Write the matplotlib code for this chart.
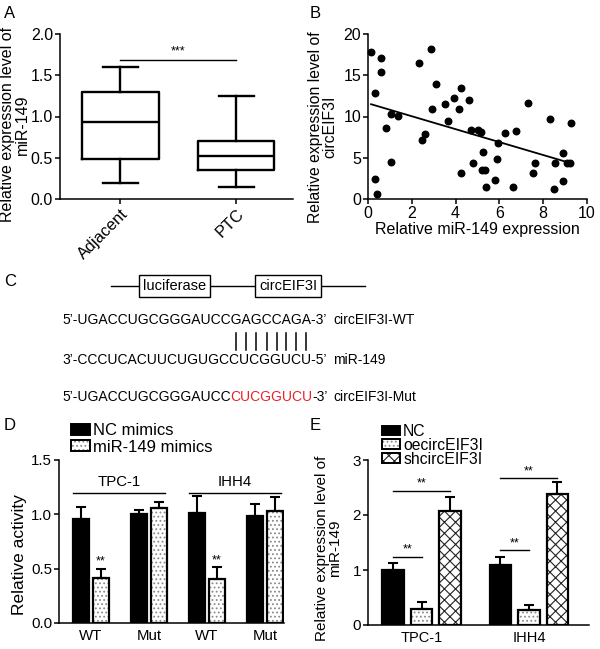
import numpy as np
import matplotlib
matplotlib.use('Agg')
import matplotlib.pyplot as plt
from matplotlib.patches import Patch
from matplotlib.legend_handler import HandlerTuple

plt.rcParams['font.family'] = ['Liberation Sans', 'DejaVu Sans']
plt.rcParams['font.size'] = 10.5
plt.rcParams['hatch.linewidth'] = 0.8

# ---- data ----
# A: box plot summary (whisker low, q1, median, q3, whisker high)
box_groups = ['Adjacent', 'PTC']
box_whislo = [0.20, 0.15]
box_q1 = [0.48, 0.35]
box_med = [0.93, 0.52]
box_q3 = [1.30, 0.70]
box_whishi = [1.60, 1.25]

# B: scatter miR-149 vs circEIF3I
mir_x = [0.14, 0.58, 0.59, 0.33, 1.03, 1.37, 0.82, 1.07, 0.33, 0.40,
         2.34, 2.86, 3.10, 2.90, 2.45, 2.60, 3.53, 3.64, 3.94, 4.16,
         4.26, 4.63, 4.25, 4.78, 4.70, 5.00, 5.14, 5.95, 5.24, 5.19,
         5.34, 5.88, 5.39, 5.78, 6.24, 6.76, 6.60, 7.29, 7.61, 7.55,
         8.31, 9.25, 8.52, 8.92, 9.07, 9.22, 8.90, 8.48]
circ_y = [17.8, 17.05, 15.4, 12.9, 10.3, 10.1, 8.6, 4.45, 2.4, 0.65,
          16.5, 18.2, 13.98, 10.95, 7.15, 7.9, 11.55, 9.5, 12.25, 10.87,
          13.5, 12.04, 3.1, 4.4, 8.36, 8.36, 8.16, 6.75, 5.74, 3.5,
          3.5, 4.8, 1.5, 2.3, 7.96, 8.3, 1.45, 11.67, 4.4, 3.1,
          9.66, 9.25, 4.4, 5.57, 4.4, 4.4, 2.2, 1.17]

# C: sequences
seq_wt = "5\u2019-UGACCUGCGGGAUCCGAGCCAGA-3\u2019"
seq_mir = "3\u2019-CCCUCACUUCUGUGCCUCGGUCU-5\u2019"
mut_parts = ["5\u2019-UGACCUGCGGGAUCC", "CUCGGUCU", "-3\u2019"]
mut_colors = ['black', '#e8232a', 'black']
seq_names = ['circEIF3I-WT', 'miR-149', 'circEIF3I-Mut']
pair_start, pair_count = 18, 8

# D: luciferase activity
d_ticks = ['WT', 'Mut', 'WT', 'Mut']
d_cells = ['TPC-1', 'IHH4']
d_nc = [0.958, 1.004, 1.01, 0.986]
d_nc_err = [0.11, 0.04, 0.16, 0.11]
d_mir = [0.416, 1.06, 0.404, 1.035]
d_mir_err = [0.085, 0.055, 0.11, 0.12]
d_sig = ['**', '', '**', '']

# E: miR-149 expression
e_cells = ['TPC-1', 'IHH4']
e_nc = [1.00, 1.085]
e_nc_err = [0.12, 0.16]
e_oe = [0.285, 0.27]
e_oe_err = [0.13, 0.10]
e_sh = [2.08, 2.39]
e_sh_err = [0.24, 0.21]
e_long_y = [2.44, 2.67]
e_short_y = [1.24, 1.36]

fig = plt.figure(figsize=(6, 6.49), dpi=100)


def frac(l, t, r, b):
    return [l / 600, 1 - b / 649, (r - l) / 600, (b - t) / 649]


def style(ax, size):
    for s in ['top', 'right']:
        ax.spines[s].set_visible(False)
    for s in ['left', 'bottom']:
        ax.spines[s].set_linewidth(1.1)
    ax.tick_params(width=1.1, length=3.5, labelsize=size, pad=1.5)


def ylab(ax, text, size, cx, cy):
    # centred placement of the (possibly two-line) y label
    ax.set_ylabel(text, fontsize=size, linespacing=0.95)
    ax.yaxis.label.set(va='center', ha='center', rotation_mode='default')
    ax.yaxis.set_label_coords(cx, cy)


def dotted_bars(ax, x, h, w, hatch='....', hc='#8a8a8a'):
    ax.bar(x, h, w, color='white', edgecolor=hc, hatch=hatch, lw=0)
    ax.bar(x, h, w, fill=False, edgecolor='black', lw=1.6)


# ---- A ----
axA = fig.add_axes(frac(60, 34, 293, 199))
stats = [dict(whislo=a, q1=b, med=c, q3=d, whishi=e, label=g)
         for a, b, c, d, e, g in zip(box_whislo, box_q1, box_med, box_q3, box_whishi, box_groups)]
lp = dict(color='black', lw=1.7)
axA.bxp(stats, positions=[1, 2], widths=0.66, capwidths=0.3, showfliers=False,
        boxprops=lp, whiskerprops=lp, capprops=lp, medianprops=lp)
axA.set_xlim(0.48, 2.49)
axA.set_ylim(0, 2.0)
axA.set_yticks([0, 0.5, 1.0, 1.5, 2.0])
axA.set_yticklabels(['0.0', '0.5', '1.0', '1.5', '2.0'])
style(axA, 11.5)
axA.set_xticks([1, 2])
axA.set_xticklabels(box_groups, rotation=45, ha='right', rotation_mode='anchor', fontsize=11.8)
ylab(axA, 'Relative expression level of\nmiR-149', 11.5, -0.193, 0.452)
axA.plot([1, 2], [1.69, 1.69], color='black', lw=1)
axA.text(1.5, 1.71, '***', ha='center', va='bottom', fontsize=9)

# ---- B ----
axB = fig.add_axes(frac(368, 34, 587, 199))
axB.scatter(mir_x, circ_y, s=22, color='black', zorder=3, clip_on=False)
k, b0 = np.polyfit(mir_x, circ_y, 1)
xs = np.array([min(mir_x), max(mir_x)])
axB.plot(xs, k * xs + b0, color='black', lw=1.3)
axB.set_xlim(0, 10)
axB.set_ylim(0, 20)
axB.set_xticks(range(0, 11, 2))
axB.set_yticks(range(0, 21, 5))
style(axB, 11.5)
axB.set_xlabel('Relative miR-149 expression', labelpad=1, fontsize=11.5)
ylab(axB, 'Relative expression level of\ncircEIF3I', 11.3, -0.205, 0.436)

# ---- C ----
fig.canvas.draw()
rend = fig.canvas.get_renderer()
fy = lambda py: 1 - py / 649
fig.add_artist(plt.Line2D([111 / 600, 365 / 600], [fy(286), fy(286)], color='black', lw=1,
                          transform=fig.transFigure))
for label, cx in [('luciferase', 174.5), ('circEIF3I', 288)]:
    fig.text(cx / 600, fy(286), label, ha='center', va='center', fontsize=10.5,
             bbox=dict(boxstyle='square,pad=0.3', fc='white', ec='black', lw=1))

x0 = 62 / 600
size_c = 10.0
rows_y = [fy(320), fy(360), fy(397)]
fig.text(x0, rows_y[0], seq_wt, va='center', fontsize=size_c)
fig.text(x0, rows_y[1], seq_mir, va='center', fontsize=size_c)
xc = x0
for part, col in zip(mut_parts, mut_colors):
    t = fig.text(xc, rows_y[2], part, va='center', fontsize=size_c, color=col)
    xc = fig.transFigure.inverted().transform(t.get_window_extent(rend))[1][0]
for name, yy in zip(seq_names, rows_y):
    fig.text(333 / 600, yy, name, va='center', fontsize=size_c)

# pairing bars under the matched bases
for i in range(pair_start, pair_start + pair_count):
    ta = fig.text(x0, 0, seq_wt[:i], fontsize=size_c)
    tb = fig.text(x0, 0, seq_wt[:i + 1], fontsize=size_c)
    xa = ta.get_window_extent(rend).x1
    xb = tb.get_window_extent(rend).x1
    ta.remove()
    tb.remove()
    xm = fig.transFigure.inverted().transform(((xa + xb) / 2, 0))[0]
    fig.add_artist(plt.Line2D([xm, xm], [fy(333), fy(350)], color='black', lw=1.1,
                              transform=fig.transFigure))

# ---- D ----
axD = fig.add_axes(frac(59, 460, 284, 623))
xd = np.arange(4)
off, wd = 0.175, 0.27
axD.bar(xd - off, d_nc, wd, color='black', edgecolor='black', lw=1.6)
dotted_bars(axD, xd + off, d_mir, wd)
axD.errorbar(xd - off, d_nc, yerr=[np.zeros(4), d_nc_err], fmt='none', ecolor='black',
             elinewidth=1.5, capsize=3.3, capthick=1.5)
axD.errorbar(xd + off, d_mir, yerr=[np.zeros(4), d_mir_err], fmt='none', ecolor='black',
             elinewidth=1.5, capsize=3.3, capthick=1.5)
for i, s in enumerate(d_sig):
    if s:
        axD.text(xd[i] + off, d_mir[i] + d_mir_err[i] + 0.01, s, ha='center', va='bottom', fontsize=9)
for j, cell in enumerate(d_cells):
    a, b = 2 * j - 0.31, 2 * j + 1.28
    axD.plot([a, b], [1.2, 1.2], color='black', lw=1, clip_on=False)
    axD.text((a + b) / 2, 1.23, cell, ha='center', va='bottom', fontsize=10.8)
axD.set_xlim(-0.55, 3.33)
axD.set_ylim(0, 1.5)
axD.set_yticks([0, 0.5, 1.0, 1.5])
axD.set_yticklabels(['0.0', '0.5', '1.0', '1.5'])
style(axD, 10.8)
axD.set_xticks(xd)
axD.set_xticklabels(d_ticks)
axD.tick_params(axis='x', length=0, pad=4)
ylab(axD, 'Relative activity', 12.5, -0.176, 0.417)
h_nc = Patch(fc='black', ec='black', lw=1.4)
h_dot = (Patch(fc='white', ec='#8a8a8a', hatch='....', lw=0), Patch(fill=False, ec='black', lw=1.4))
axD.legend([h_nc, h_dot], ['NC mimics', 'miR-149 mimics'], loc='upper left',
           bbox_to_anchor=(0.055, 1.225), frameon=False, borderpad=0, borderaxespad=0,
           handlelength=1.1, handleheight=0.6, handletextpad=0.2, labelspacing=0.08,
           fontsize=12, handler_map={tuple: HandlerTuple(ndivide=1, pad=0)})

# ---- E ----
axE = fig.add_axes(frac(368, 460, 589, 625))
xe = np.arange(2)
oe, we = 0.265, 0.2
axE.bar(xe - oe, e_nc, we, color='black', edgecolor='black', lw=1.6)
dotted_bars(axE, xe, e_oe, we)
dotted_bars(axE, xe + oe, e_sh, we, hatch='xxx', hc='#222222')
for xx, vals, errs in [(xe - oe, e_nc, e_nc_err), (xe, e_oe, e_oe_err), (xe + oe, e_sh, e_sh_err)]:
    axE.errorbar(xx, vals, yerr=[np.zeros(2), errs], fmt='none', ecolor='black',
                 elinewidth=1.5, capsize=3.8, capthick=1.5)
for j in range(2):
    axE.plot([xe[j] - oe, xe[j] + oe], [e_long_y[j]] * 2, color='black', lw=1)
    axE.text(xe[j], e_long_y[j] + 0.02, '**', ha='center', va='bottom', fontsize=9)
    axE.plot([xe[j] - oe, xe[j]], [e_short_y[j]] * 2, color='black', lw=1)
    axE.text(xe[j] - oe / 2, e_short_y[j] + 0.02, '**', ha='center', va='bottom', fontsize=9)
axE.set_xlim(-0.5, 1.56)
axE.set_ylim(0, 3)
axE.set_yticks([0, 1, 2, 3])
style(axE, 11)
axE.set_xticks(xe)
axE.set_xticklabels(e_cells, fontsize=10.5)
axE.tick_params(axis='x', length=0, pad=4)
ylab(axE, 'Relative expression level of\nmiR-149', 11, -0.178, 0.467)
h_oe = (Patch(fc='white', ec='#8a8a8a', hatch='....', lw=0), Patch(fill=False, ec='black', lw=1.4))
h_sh = (Patch(fc='white', ec='#222222', hatch='xxx', lw=0), Patch(fill=False, ec='black', lw=1.4))
axE.legend([h_nc, h_oe, h_sh], ['NC', 'oecircEIF3I', 'shcircEIF3I'], loc='upper left',
           bbox_to_anchor=(0.063, 1.218), frameon=False, borderpad=0, borderaxespad=0,
           handlelength=1.15, handleheight=0.6, handletextpad=0.2, labelspacing=-0.08,
           fontsize=11.3, handler_map={tuple: HandlerTuple(ndivide=1, pad=0)})

# panel letters
for letter, px, py in [('A', 4, 14), ('B', 310, 14), ('C', 4, 282), ('D', 4, 425), ('E', 310, 425)]:
    fig.text(px / 600, fy(py), letter, fontsize=12, va='center')

fig.savefig('out.png', dpi=100)
